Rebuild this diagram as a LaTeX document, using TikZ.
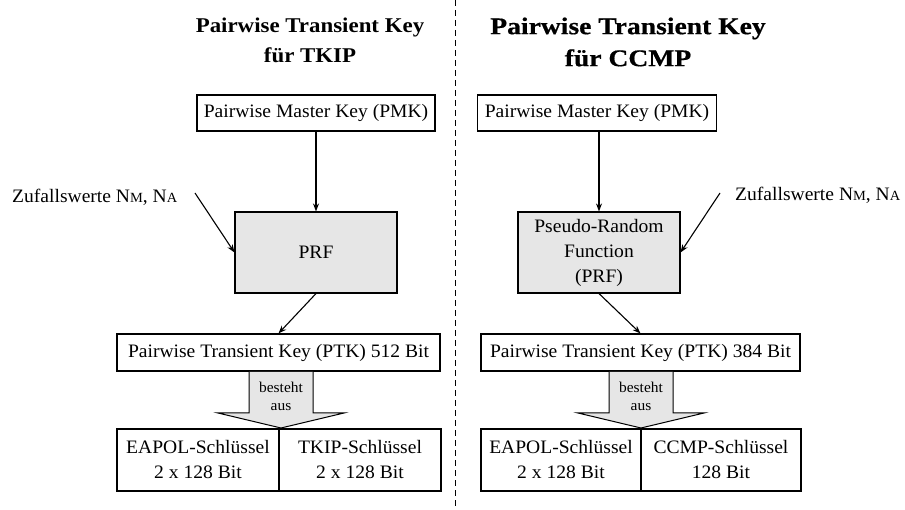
\documentclass[tikz,border=0pt]{standalone}
\usepackage{fontspec}
\setmainfont{Liberation Serif}
\newfontfamily\titlefontA[FakeStretch=1.09]{Liberation Serif}
\newfontfamily\titlefontB[FakeStretch=1.15,FakeBold=0.6]{Liberation Serif}
\newfontfamily\bodyfont[FakeStretch=1.03]{Liberation Serif}
\usetikzlibrary{arrows.meta}
\definecolor{boxgray}{HTML}{E6E6E6}
\tikzset{
  keybox/.style={draw, line width=1.1pt, inner sep=0pt, align=center, font=\bodyfont\fontsize{19}{25}\selectfont},
  prfbox/.style={keybox, fill=boxgray},
  flow/.style={line width=1.1pt, -{Stealth[length=8pt,width=6pt]}},
  blockarrow/.style={draw, line width=1pt, fill=boxgray},
  lbl/.style={inner sep=0pt, font=\bodyfont\fontsize{19}{25}\selectfont},
  ttl/.style={inner sep=0pt, align=center},
}
\newcommand{\nsub}[1]{{\fontsize{14}{14}\selectfont #1}}
\begin{document}
\begin{tikzpicture}[x=1pt,y=-1pt]
\useasboundingbox (0,0) rectangle (905,510);

% divider between the two variants
\draw[line width=1pt, dash pattern=on 6pt off 4pt] (455,0) -- (455,510);

% ---------- TKIP ----------
\node[ttl, font=\titlefontA\bfseries\fontsize{21}{30}\selectfont] (t1) at (310,40) {Pairwise Transient Key\\für TKIP};
\node[keybox, minimum width=238pt, minimum height=36pt] (pmk1) at (316,113) {Pairwise Master Key (PMK)};
\node[prfbox, minimum width=162pt, minimum height=81pt] (prf1) at (316,252.5) {PRF};
\node[lbl, anchor=west] (z1) at (12,197) {Zufallswerte N\nsub{M}, N\nsub{A}};
\coordinate (z1s) at (195,193);
\node[keybox, minimum width=323pt, minimum height=37pt] (ptk1) at (278.5,352.5) {Pairwise Transient Key (PTK) 512 Bit};
\node[keybox, minimum width=162pt, minimum height=62pt] (ea1) at (198,460) {EAPOL-Schlüssel\\2 x 128 Bit};
\node[keybox, minimum width=162pt, minimum height=62pt] (tk1) at (360,460) {TKIP-Schlüssel\\2 x 128 Bit};

\draw[flow] (pmk1) -- (prf1);
\draw[flow] (z1s) -- (prf1.west);
\draw[flow] (prf1.south) -- (ptk1.north);
\draw[blockarrow] (249,372) -- (249,413) -- (218,413) -- (281,428) -- (344,413) -- (313,413) -- (313,372);
\node[ttl, font=\bodyfont\fontsize{15}{18}\selectfont] (b1) at (281,396) {besteht\\aus};

% ---------- CCMP ----------
\node[ttl, font=\titlefontB\bfseries\fontsize{24}{32}\selectfont] (t2) at (628,42) {Pairwise Transient Key\\für CCMP};
\node[keybox, minimum width=239pt, minimum height=36pt] (pmk2) at (597,113) {Pairwise Master Key (PMK)};
\node[prfbox, minimum width=162pt, minimum height=81pt] (prf2) at (599,252.5) {Pseudo-Random\\Function\\(PRF)};
\node[lbl, anchor=west] (z2) at (735,195) {Zufallswerte N\nsub{M}, N\nsub{A}};
\coordinate (z2s) at (720,193);
\node[keybox, minimum width=319pt, minimum height=37pt] (ptk2) at (640.5,352.5) {Pairwise Transient Key (PTK) 384 Bit};
\node[keybox, minimum width=160pt, minimum height=62pt] (ea2) at (561,460) {EAPOL-Schlüssel\\2 x 128 Bit};
\node[keybox, minimum width=160pt, minimum height=62pt] (cc2) at (721,460) {CCMP-Schlüssel\\128 Bit};

\draw[flow] (pmk2.south -| prf2.north) -- (prf2);
\draw[flow] (z2s) -- (prf2.east);
\draw[flow] (prf2.south) -- (ptk2.north);
\draw[blockarrow] (609,372) -- (609,413) -- (578,413) -- (641,428) -- (704,413) -- (673,413) -- (673,372);
\node[ttl, font=\bodyfont\fontsize{15}{18}\selectfont] (b2) at (641,396) {besteht\\aus};
\end{tikzpicture}
\end{document}
